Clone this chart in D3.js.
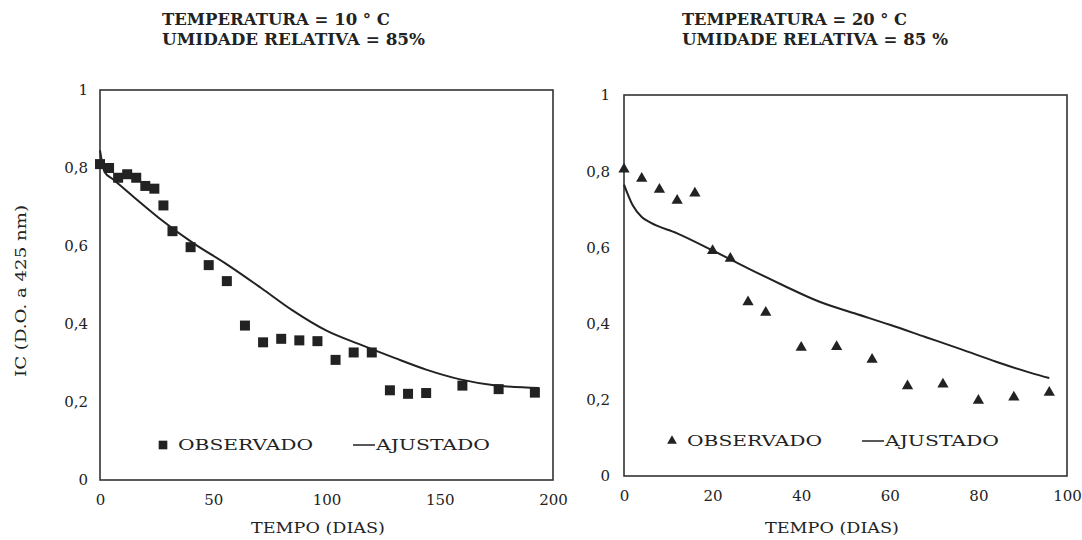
<!DOCTYPE html>
<html><head><meta charset="utf-8">
<script src="https://cdn.jsdelivr.net/npm/d3@7"></script>
<style>
html,body{margin:0;padding:0;background:#fff;}
svg text{font-family:"DejaVu Serif","Liberation Serif",serif;fill:#222;}
</style></head>
<body>
<svg id="chart" width="1082" height="540"></svg>
<script>
// ---- Data ----
const leftTitle = ["TEMPERATURA = 10 ° C", "UMIDADE RELATIVA = 85%"];
const rightTitle = ["TEMPERATURA = 20 ° C", "UMIDADE RELATIVA = 85 %"];
const yAxisLabel = "IC (D.O. a 425 nm)";
const xAxisLabel = "TEMPO (DIAS)";
const legendObs = "OBSERVADO";
const legendFit = "AJUSTADO";

const yTicks = [0, 0.2, 0.4, 0.6, 0.8, 1];
const leftXTicks = [0, 50, 100, 150, 200];
const rightXTicks = [0, 20, 40, 60, 80, 100];

const leftObsDays = [0,4,8,12,16,20,24,28,32,40,48,56,64,72,80,88,96,104,112,120,128,136,144,160,176,192];
const leftObsValues = [0.81,0.80,0.775,0.784,0.775,0.754,0.747,0.704,0.638,0.597,0.551,0.51,0.396,0.353,0.362,0.358,0.356,0.308,0.327,0.327,0.23,0.221,0.223,0.242,0.233,0.224];
const leftFitDays = [0,2,6,15,26,41,56,71,85,100,115,130,144,159,174,194];
const leftFitValues = [0.845,0.79,0.77,0.725,0.672,0.608,0.553,0.493,0.435,0.383,0.347,0.313,0.283,0.258,0.243,0.236];

const rightObsDays = [0,4,8,12,16,20,24,28,32,40,48,56,64,72,80,88,96];
const rightObsValues = [0.805,0.781,0.752,0.723,0.742,0.591,0.571,0.457,0.429,0.337,0.339,0.306,0.236,0.241,0.198,0.207,0.219];
const rightFitDays = [0,2,4,6,12,20,28,36,44,52,60,68,76,84,92,96];
const rightFitValues = [0.765,0.71,0.68,0.665,0.637,0.592,0.545,0.50,0.458,0.427,0.397,0.365,0.333,0.30,0.27,0.257];

// ---- Drawing ----
const svg = d3.select("#chart");
const ink = "#222";
const loc = d3.formatLocale({decimal: ",", thousands: ".", grouping: [3], currency: ["", ""]});
const yFmt = loc.format("~g");

function panel(cfg) {
  const x = d3.scaleLinear().domain(cfg.xDomain).range([cfg.x0, cfg.x1]);
  const y = d3.scaleLinear().domain([0, 1]).range([cfg.y0, cfg.y1]);
  const g = svg.append("g");

  // frame
  g.append("rect").attr("x", cfg.x0).attr("y", cfg.y1)
    .attr("width", cfg.x1 - cfg.x0).attr("height", cfg.y0 - cfg.y1)
    .attr("fill", "none").attr("stroke", "#333").attr("stroke-width", 1.6);

  // axes
  const xa = g.append("g").attr("transform", `translate(0,${cfg.y0})`)
    .call(d3.axisBottom(x).tickValues(cfg.xTicks).tickSize(0).tickPadding(14).tickFormat(d3.format("d")));
  const ya = g.append("g").attr("transform", `translate(${cfg.x0},0)`)
    .call(d3.axisLeft(y).tickValues(yTicks).tickSize(0).tickPadding(cfg.yPad).tickFormat(yFmt));
  [xa, ya].forEach(a => {
    a.select(".domain").remove();
    a.selectAll("text").style("font-family", '"DejaVu Serif",serif').style("font-size", "15px").attr("fill", ink);
  });

  // fitted line
  const line = d3.line().x(d => x(d[0])).y(d => y(d[1])).curve(d3.curveMonotoneX);
  g.append("path").datum(cfg.fitDays.map((d, i) => [d, cfg.fitValues[i]]))
    .attr("d", line).attr("fill", "none").attr("stroke", ink).attr("stroke-width", 2);

  // observed
  const sym = d3.symbol().type(cfg.symbol).size(cfg.symSize);
  g.selectAll("path.obs").data(cfg.obsDays.map((d, i) => [d, cfg.obsValues[i]]))
    .join("path").attr("class", "obs")
    .attr("transform", d => `translate(${x(d[0])},${y(d[1])})`)
    .attr("d", sym).attr("fill", ink);

  // titles
  cfg.title.forEach((t, i) => {
    g.append("text").attr("x", cfg.titleX).attr("y", 25 + i * 20)
      .attr("textLength", cfg.titleW[i]).attr("lengthAdjust", "spacingAndGlyphs")
      .style("font-size", "16px").style("font-weight", "bold").attr("fill", "#2a2a2a").text(t);
  });

  // x axis label
  g.append("text").attr("x", cfg.xLabelX).attr("y", 533).attr("text-anchor", "middle")
    .attr("textLength", 134).attr("lengthAdjust", "spacingAndGlyphs")
    .style("font-size", "15px").text(xAxisLabel);

  // legend
  g.append("path").attr("transform", `translate(${cfg.legX},${cfg.legY - 5})`)
    .attr("d", d3.symbol().type(cfg.symbol).size(cfg.symSize * 0.75)).attr("fill", ink);
  g.append("text").attr("x", cfg.legX + 15).attr("y", cfg.legY)
    .attr("textLength", 135).attr("lengthAdjust", "spacingAndGlyphs")
    .style("font-size", "15px").text(legendObs);
  g.append("line").attr("x1", cfg.legX + 190).attr("x2", cfg.legX + 212)
    .attr("y1", cfg.legY - 5).attr("y2", cfg.legY - 5).attr("stroke", ink).attr("stroke-width", 1.5);
  g.append("text").attr("x", cfg.legX + 213).attr("y", cfg.legY)
    .attr("textLength", 114).attr("lengthAdjust", "spacingAndGlyphs")
    .style("font-size", "15px").text(legendFit);
}

panel({
  xDomain: [0, 200], x0: 100, x1: 553, y0: 480, y1: 90, yPad: 12,
  xTicks: leftXTicks, obsDays: leftObsDays, obsValues: leftObsValues,
  fitDays: leftFitDays, fitValues: leftFitValues,
  symbol: d3.symbolSquare, symSize: 100,
  title: leftTitle, titleX: 162, titleW: [228, 263],
  xLabelX: 318, legX: 163, legY: 450
});
panel({
  xDomain: [0, 100], x0: 624, x1: 1067, y0: 476, y1: 95, yPad: 14,
  xTicks: rightXTicks, obsDays: rightObsDays, obsValues: rightObsValues,
  fitDays: rightFitDays, fitValues: rightFitValues,
  symbol: d3.symbolTriangle, symSize: 55,
  title: rightTitle, titleX: 682, titleW: [225, 266],
  xLabelX: 832, legX: 672, legY: 446
});

// y axis label (left only)
svg.append("text").attr("transform", "translate(26,291) rotate(-90)")
  .attr("text-anchor", "middle").attr("textLength", 172).attr("lengthAdjust", "spacingAndGlyphs")
  .style("font-size", "15px").text(yAxisLabel);
</script>
</body></html>
